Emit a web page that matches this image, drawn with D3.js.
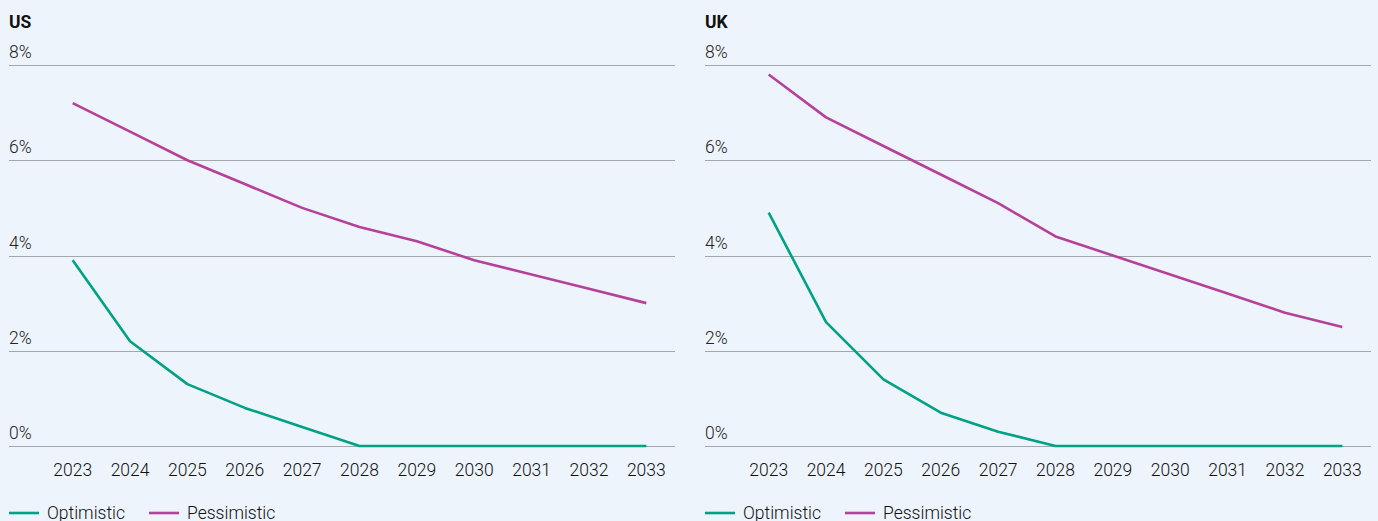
<!DOCTYPE html>
<html>
<head>
<meta charset="utf-8">
<script src="https://cdn.jsdelivr.net/npm/d3@7"></script>
<style>
  html, body { margin: 0; padding: 0; background: #edf4fc; }
  svg { display: block; }
  text { font-family: Roboto, "Liberation Sans", Arial, sans-serif; }
</style>
</head>
<body>
<svg id="chart" width="1378" height="521"></svg>
<script>
// Years on the horizontal axis
const years = ["2023","2024","2025","2026","2027","2028","2029","2030","2031","2032","2033"];
// Y-axis ticks (percent)
const yTicks = [0, 2, 4, 6, 8];

// US scenarios (%)
const usOptimistic  = [3.9, 2.2, 1.3, 0.8, 0.4, 0, 0, 0, 0, 0, 0];
const usPessimistic = [7.2, 6.6, 6.0, 5.5, 5.0, 4.6, 4.3, 3.9, 3.6, 3.3, 3.0];

// UK scenarios (%)
const ukOptimistic  = [4.9, 2.6, 1.4, 0.7, 0.3, 0, 0, 0, 0, 0, 0];
const ukPessimistic = [7.8, 6.9, 6.3, 5.7, 5.1, 4.4, 4.0, 3.6, 3.2, 2.8, 2.5];

const seriesNames = ["Optimistic", "Pessimistic"];
const colors = { Optimistic: "#00a184", Pessimistic: "#b6419b" };

const panels = [
  { title: "US", left: 9, optimistic: usOptimistic, pessimistic: usPessimistic },
  { title: "UK", left: 705, optimistic: ukOptimistic, pessimistic: ukPessimistic }
];

const svg = d3.select("#chart");

panels.forEach(p => {
  const g = svg.append("g").attr("transform", `translate(${p.left},0)`);
  const gridRight = 666;   // panel width of the gridlines
  const plotLeft = 35;     // where the category bands begin

  const x = d3.scaleBand().domain(years).range([plotLeft, gridRight]).padding(0);
  const y = d3.scaleLinear().domain([0, 8]).range([446, 65]);

  // Panel title
  g.append("text")
    .attr("x", 0).attr("y", 28)
    .attr("font-size", 17.5).attr("font-weight", 700).attr("fill", "#111")
    .text(p.title);

  // Horizontal gridlines with labels sitting above them
  const grid = g.append("g");
  grid.selectAll("line").data(yTicks).join("line")
    .attr("x1", 0).attr("x2", gridRight)
    .attr("y1", d => Math.round(y(d)) + 0.5).attr("y2", d => Math.round(y(d)) + 0.5)
    .attr("stroke", "#a3a6ab").attr("stroke-width", 1);
  grid.selectAll("text").data(yTicks).join("text")
    .attr("x", 0).attr("y", d => y(d) - 7)
    .attr("font-size", 17.5).attr("font-weight", 300).attr("fill", "#222")
    .text(d => d + "%");

  // Year labels
  const xAxis = g.append("g").attr("transform", "translate(0,446)")
    .call(d3.axisBottom(x).tickSize(0).tickPadding(0));
  xAxis.select(".domain").remove();
  xAxis.selectAll("text")
    .attr("dy", 0).attr("y", 30)
    .attr("font-size", 17.5).attr("font-weight", 300).attr("fill", "#111")
    .attr("font-family", "Roboto, 'Liberation Sans', Arial, sans-serif");

  // Scenario lines
  const line = d3.line()
    .x((d, i) => x(years[i]) + x.bandwidth() / 2)
    .y(d => y(d));

  [["Pessimistic", p.pessimistic], ["Optimistic", p.optimistic]].forEach(([name, vals]) => {
    g.append("path")
      .datum(vals)
      .attr("d", line)
      .attr("fill", "none")
      .attr("stroke", colors[name])
      .attr("stroke-width", 2.6)
      .attr("stroke-linejoin", "round");
  });

  // Legend
  const legend = g.append("g").attr("transform", "translate(0,513)");
  const offsets = [0, 140];
  seriesNames.forEach((name, i) => {
    const item = legend.append("g").attr("transform", `translate(${offsets[i]},0)`);
    item.append("line")
      .attr("x1", 0).attr("x2", 30).attr("y1", 0).attr("y2", 0)
      .attr("stroke", colors[name]).attr("stroke-width", 2.6);
    item.append("text")
      .attr("x", 38).attr("y", 6)
      .attr("font-size", 17.5).attr("font-weight", 300).attr("fill", "#111")
      .text(name);
  });
});
</script>
</body>
</html>
